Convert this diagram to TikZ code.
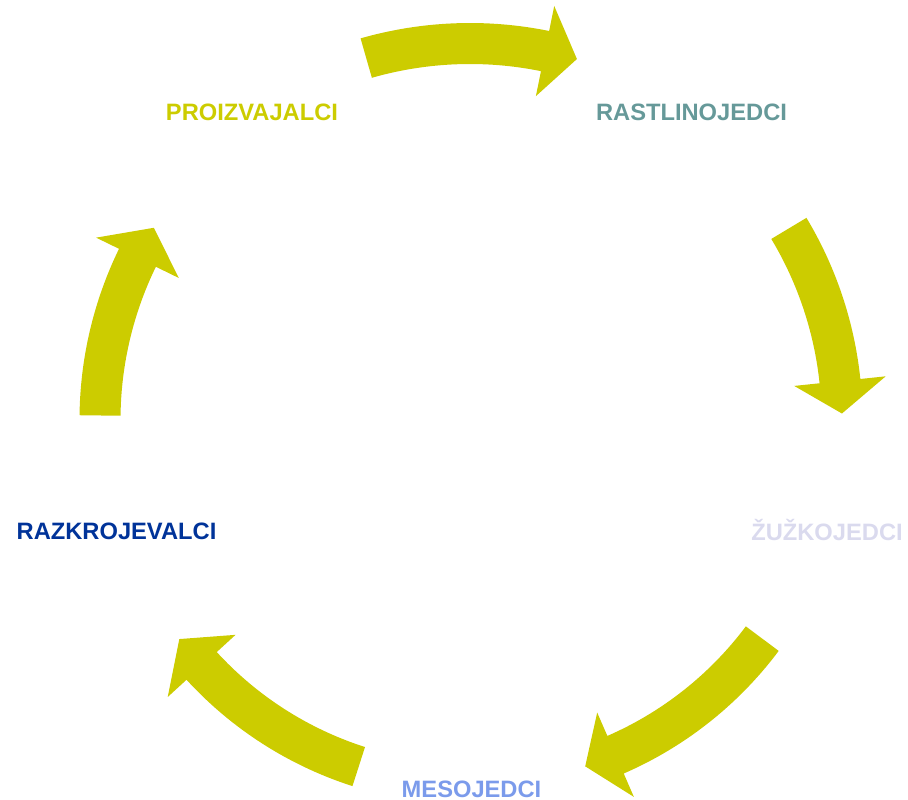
\documentclass[tikz,border=0pt]{standalone}
\usepackage{fontspec}
\setmainfont{Liberation Sans}
\usetikzlibrary{calc}
\definecolor{cyclegreen}{HTML}{CCCC00}
\definecolor{herbteal}{HTML}{669999}
\definecolor{insectlilac}{HTML}{DADAEE}
\definecolor{meatblue}{HTML}{7B9BEB}
\definecolor{decompblue}{HTML}{003399}

\begin{document}
\begin{tikzpicture}[x=1pt,y=-1pt,
    tierlabel/.style={font=\bfseries\fontsize{23.7}{28}\selectfont,inner sep=0pt,anchor=base},
    cyclearrow/.style={fill=cyclegreen}]
    \useasboundingbox (0,0) rectangle (908,800);
    \coordinate (O) at (470,420);
    % trophic levels
    \node[tierlabel,text=cyclegreen] (proizvajalci) at (252,120.5) {PROIZVAJALCI};
    \node[tierlabel,text=herbteal] (rastlinojedci) at (691.5,120.5) {RASTLINOJEDCI};
    \node[tierlabel,text=insectlilac] (zuzkojedci) at (827,540) {ŽUŽKOJEDCI};
    \node[tierlabel,text=meatblue] (mesojedci) at (471.5,797) {MESOJEDCI};
    \node[tierlabel,text=decompblue] (razkrojevalci) at (116.5,539) {RAZKROJEVALCI};
    % tail angle / head base angle / tip angle / radius
    \foreach \ta/\ba/\pa/\rr in {254/281.5/286.5/376.5, -31/-6/-1/372,
        36.8/66.5/71.6/365, 107.8/137.5/143/364, 180.7/206/211.3/370}{
        \pgfmathsetmacro{\ro}{\rr+20.5}
        \pgfmathsetmacro{\ri}{\rr-20.5}
        \pgfmathsetmacro{\ho}{\rr+46}
        \pgfmathsetmacro{\hi}{\rr-46}
        \fill[cyclearrow] ($(O)+(\ta:\ro)$) arc[start angle=\ta,end angle=\ba,radius=\ro]
            -- ($(O)+(\ba:\ho)$) -- ($(O)+(\pa:\rr)$) -- ($(O)+(\ba:\hi)$)
            -- ($(O)+(\ba:\ri)$) arc[start angle=\ba,end angle=\ta,radius=\ri] -- cycle;
    }
\end{tikzpicture}
\end{document}
